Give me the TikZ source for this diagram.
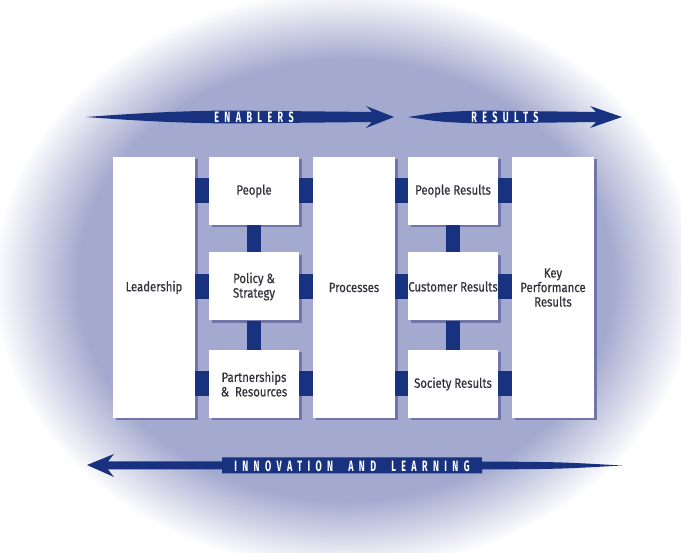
\documentclass[tikz,border=0pt]{standalone}
\usepackage{fontspec}
\setmainfont{Fira Sans}[FakeStretch=0.84,FakeBold=0.5]
\newfontfamily\bandfont{Fira Sans}[FakeStretch=0.6,LetterSpace=36]
\usetikzlibrary{shadows}

\definecolor{glowblue}{RGB}{164,170,207}
\definecolor{darkblue}{RGB}{24,50,128}
\definecolor{shadowblue}{RGB}{112,118,168}
\definecolor{labelgrey}{RGB}{50,50,60}

% soft oval behind the model
\pgfdeclareradialshading{glow}{\pgfpoint{0bp}{0bp}}{%
  color(0bp)=(glowblue); color(19bp)=(glowblue);
  color(25bp)=(white); color(50bp)=(white)}

\tikzset{
  box/.style={fill=white, text=labelgrey, align=center, inner sep=0pt,
    font=\fontsize{13.5}{14.5}\selectfont,
    drop shadow={shadow xshift=2.5pt, shadow yshift=-2.5pt,
      fill=shadowblue, opacity=1}},
  tallbox/.style={box, minimum width=82pt, minimum height=261pt},
  smallbox/.style={box, minimum width=90pt, minimum height=68pt},
  hlink/.style={draw=darkblue, line width=25pt},
  vlink/.style={draw=darkblue, line width=14pt},
  bandlabel/.style={text=white, inner sep=0pt,
    font=\bandfont\bfseries\fontsize{15}{15}\selectfont}
}

\begin{document}
\begin{tikzpicture}[x=1pt, y=-1pt]
  \useasboundingbox (0,0) rectangle (681,553);
  \clip (0,0) rectangle (681,553);

  \shade[shading=glow] (345,280) ellipse (352 and 290);

  % enablers and results
  \node[tallbox] (lead) at (154,287.5) {Leadership};
  \node[smallbox] (peo) at (254,191) {People};
  \node[smallbox] (pol) at (254,286.5) {Policy \&\\Strategy};
  \node[smallbox] (part) at (254,384) {Partnerships\\\&\ \ Resources};
  \node[tallbox] (proc) at (354,287.5) {Processes};
  \node[smallbox] (pres) at (453,191) {People Results};
  \node[smallbox] (cres) at (453,286.5) {Customer Results};
  \node[smallbox] (sres) at (453,384) {Society Results};
  \node[tallbox] (kpr) at (553,287.5) {Key\\Performance\\Results};

  % links between the boxes
  \foreach \r in {peo,pol,part}{
    \draw[hlink] (\r.west) -- (\r.west -| lead.east);
    \draw[hlink] (\r.east) -- (\r.east -| proc.west);
  }
  \foreach \r in {pres,cres,sres}{
    \draw[hlink] (\r.west) -- (\r.west -| proc.east);
    \draw[hlink] (\r.east) -- (\r.east -| kpr.west);
  }
  \draw[vlink] (peo.south) -- (pol.north);
  \draw[vlink] (pol.south) -- (part.north);
  \draw[vlink] (pres.south) -- (cres.north);
  \draw[vlink] (cres.south) -- (sres.north);

  % top arrows
  \fill[darkblue] (86,117) .. controls (140,113) and (180,111) .. (230,110.5)
    -- (372,112) -- (366,106) -- (394,117) -- (366,128) -- (372,122)
    -- (230,123.5) .. controls (180,123) and (140,121) .. (86,117) -- cycle;
  \fill[darkblue] (408,117) .. controls (440,112) .. (480,110.5)
    -- (596,112) -- (590,106) -- (622,117) -- (590,128) -- (596,122)
    -- (480,123.5) .. controls (440,122) .. (408,117) -- cycle;
  \node[bandlabel] (enab) at (254,117) {ENABLERS};
  \node[bandlabel] (res) at (505,117) {RESULTS};

  % bottom arrow, pointing back
  \fill[darkblue] (87,465) -- (114,454) -- (108,461.5) -- (222,461.5)
    -- (222,457.5) -- (482,457.5) -- (482,461.5)
    .. controls (560,462) .. (622,465.5)
    .. controls (560,469) .. (482,469.5) -- (482,473.5) -- (222,473.5)
    -- (222,469.5) -- (108,469.5) -- (114,477) -- cycle;
  \node[bandlabel] (innov) at (352,466) {INNOVATION\ \ AND\ \ LEARNING};
\end{tikzpicture}
\end{document}
